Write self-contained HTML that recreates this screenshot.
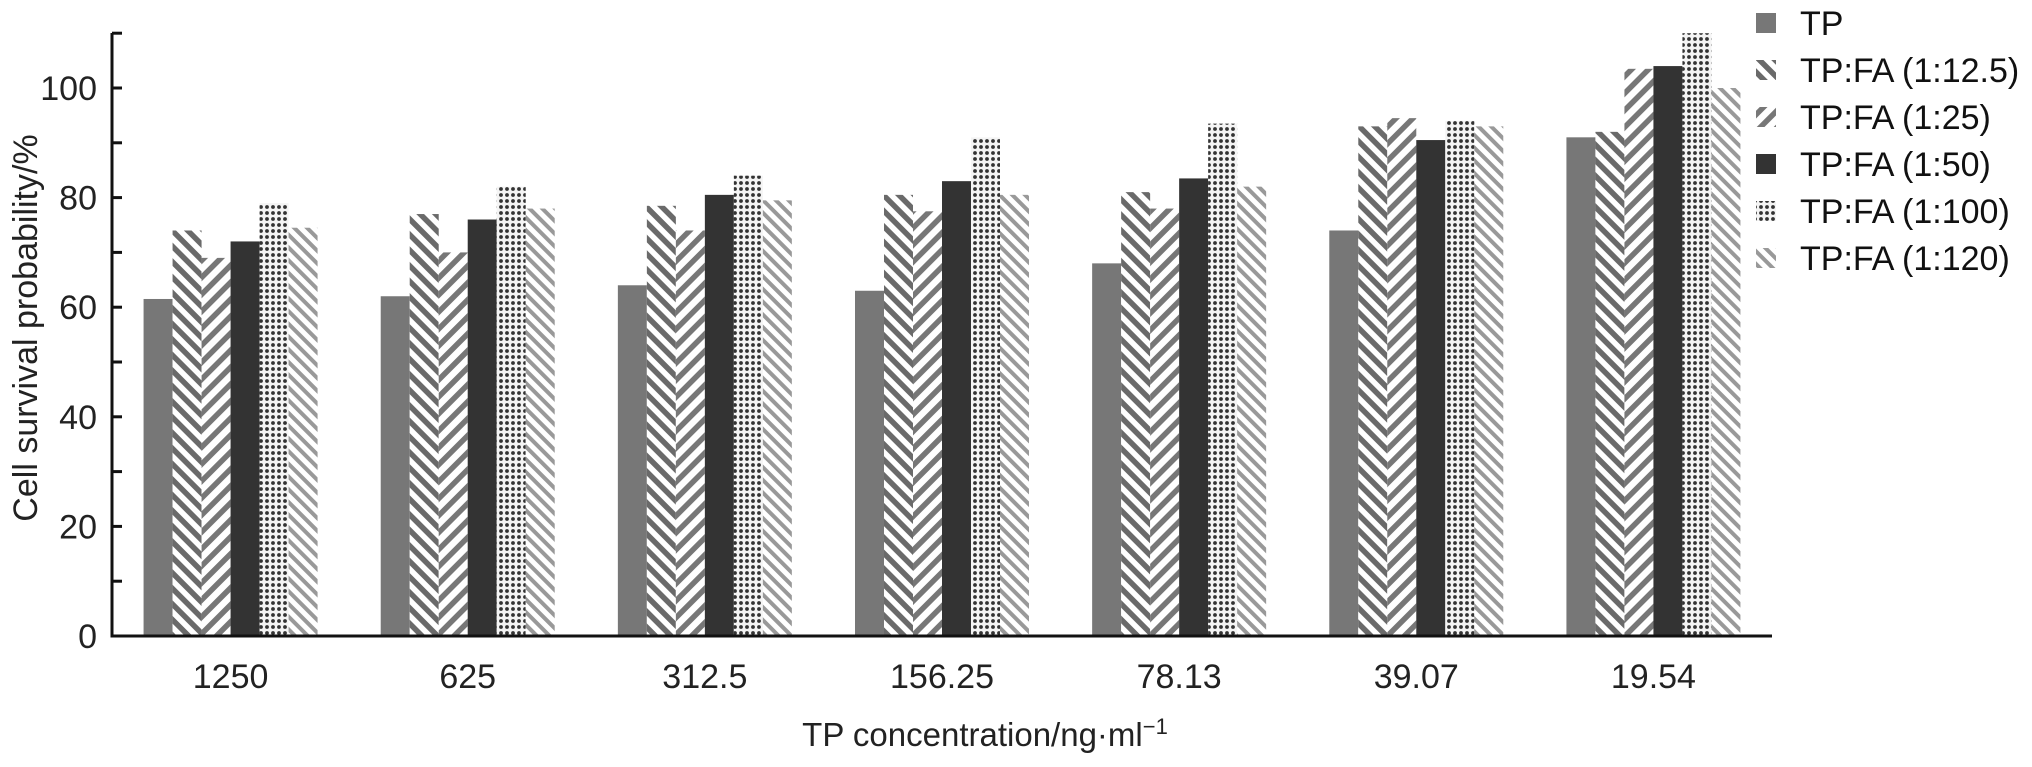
<!DOCTYPE html>
<html><head><meta charset="utf-8"><style>
html,body{margin:0;padding:0;background:#fff;}
svg{display:block;font-family:"Liberation Sans",Arial,sans-serif;}
</style></head><body>
<svg id="chart" width="2032" height="767" viewBox="0 0 2032 767" xmlns="http://www.w3.org/2000/svg">
<defs>
<pattern id="p125" patternUnits="userSpaceOnUse" width="11" height="11" patternTransform="rotate(-45)"><rect width="11" height="11" fill="#fff"/><rect width="5.5" height="11" fill="#6a6a6a"/></pattern>
<pattern id="p25" patternUnits="userSpaceOnUse" width="12" height="12" patternTransform="rotate(45)"><rect width="12" height="12" fill="#fff"/><rect width="5.5" height="12" fill="#777"/></pattern>
<pattern id="p100" patternUnits="userSpaceOnUse" width="6" height="6"><rect width="6" height="6" fill="#f4f4f4"/><circle cx="3" cy="3" r="1.9" fill="#333"/></pattern>
<pattern id="p120" patternUnits="userSpaceOnUse" width="9" height="9" patternTransform="rotate(-45)"><rect width="9" height="9" fill="#fff"/><rect width="4" height="9" fill="#999"/></pattern>
</defs>
<g id="plot"></g>
</svg>
<script>
const categories = ["1250","625","312.5","156.25","78.13","39.07","19.54"];
const seriesNames = ["TP","TP:FA (1:12.5)","TP:FA (1:25)","TP:FA (1:50)","TP:FA (1:100)","TP:FA (1:120)"];
const tp     = [61.5, 62, 64, 63, 68, 74, 91];
const fa12_5 = [74, 77, 78.5, 80.5, 81, 93, 92];
const fa25   = [69, 70, 74, 77.5, 78, 94.5, 103.5];
const fa50   = [72, 76, 80.5, 83, 83.5, 90.5, 104];
const fa100  = [79, 82, 84, 91, 93.5, 94, 110];
const fa120  = [74.5, 78, 79.5, 80.5, 82, 93, 100];
const yTicks = [0,20,40,60,80,100];
const yMinor = [10,30,50,70,90,110];

const series = [tp, fa12_5, fa25, fa50, fa100, fa120];
const fills = ["#777","url(#p125)","url(#p25)","#333","url(#p100)","url(#p120)"];
const NS = "http://www.w3.org/2000/svg";
const g = document.getElementById('plot');
const X0 = 112, X1 = 1772, Y0 = 636, YTOP = 33;
const yScale = v => Y0 - v * 5.48;
const groupW = (X1 - X0) / categories.length;
const xCenter = i => X0 + groupW * (i + 0.5);
const barW = 29;
function mk(tag, attrs){const e=document.createElementNS(NS,tag);for(const k in attrs)e.setAttribute(k,attrs[k]);g.appendChild(e);return e;}

categories.forEach((c, i) => {
  series.forEach((s, j) => {
    const x = xCenter(i) - barW * 3 + j * barW;
    const r = mk('rect', {x: x, y: yScale(s[i]), width: barW, height: Y0 - yScale(s[i]), fill: fills[j]});
    
    
  });
  const t = mk('text', {x: xCenter(i), y: 688, 'text-anchor': 'middle', 'font-size': 34, fill: '#222'});
  t.textContent = c;
  
  
});

const ya = mk('line', {x1: X0, y1: YTOP, x2: X0, y2: Y0+1.5, stroke: '#111', 'stroke-width': 3});


const xa = mk('line', {x1: X0-1.5, y1: Y0, x2: X1, y2: Y0, stroke: '#111', 'stroke-width': 3});


yTicks.concat(yMinor).forEach(v => {
  const l = mk('line', {x1: X0, y1: yScale(v), x2: X0 + 10, y2: yScale(v), stroke: '#111', 'stroke-width': 3});
  
  
});
yTicks.forEach(v => {
  const t = mk('text', {x: 97, y: yScale(v) + 12, 'text-anchor': 'end', 'font-size': 34, fill: '#222'});
  t.textContent = v;
  
  
});
const yt = mk('text', {x: 0, y: 0, transform: 'translate(37,328) rotate(-90)', 'text-anchor': 'middle', 'font-size': 34, fill: '#222'});
yt.textContent = 'Cell survival probability/%';


const xt = mk('text', {x: 985, y: 746, 'text-anchor': 'middle', 'font-size': 33, fill: '#222'});
xt.innerHTML = 'TP concentration/ng·ml<tspan dy="-12" font-size="22">−1</tspan>';



const ly = [23, 70, 117, 164, 211, 258];
seriesNames.forEach((n, j) => {
  const r = mk('rect', {x: 1756, y: ly[j] - 10, width: 20, height: 20, fill: fills[j]});
  
  
  const t = mk('text', {x: 1800, y: ly[j] + 12, 'font-size': 34, fill: '#111'});
  t.textContent = n;
  
  
});
</script>
</body></html>
